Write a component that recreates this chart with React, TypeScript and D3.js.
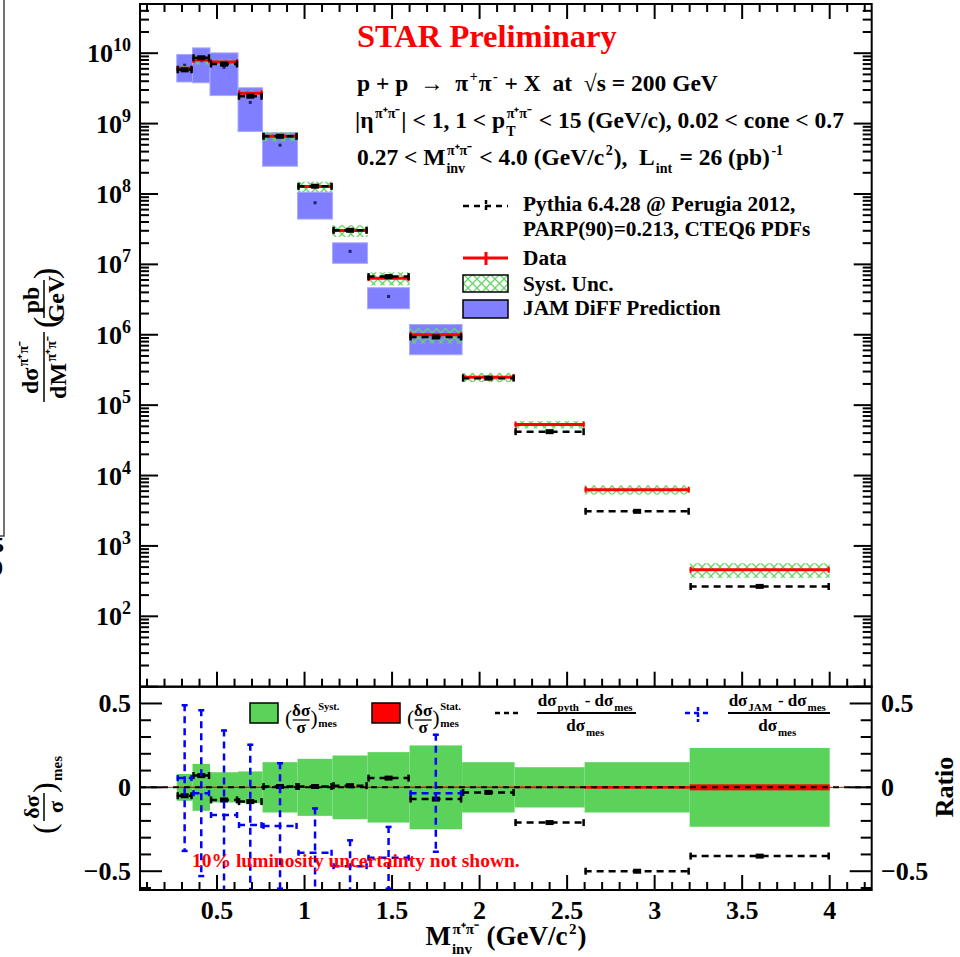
import React from 'react';
import * as d3 from 'd3';

// invariant mass bins (GeV/c^2)
const binEdges = [0.27, 0.36, 0.46, 0.62, 0.76, 0.96, 1.16, 1.36, 1.6, 1.9, 2.2, 2.6, 3.2, 4.0];

// upper panel, dsigma/dM (pb/GeV)
const dataXsec = [6.1e9, 8.0e9, 7.5e9, 2.7e9, 6.6e8, 1.28e8, 3.03e7, 6.37e6, 1.0e6, 2.5e5, 5.3e4, 6.3e3, 4.6e2];
const pythiaXsec = [5.8e9, 8.6e9, 7.0e9, 2.45e9, 6.6e8, 1.29e8, 3.05e7, 6.7e6, 9.3e5, 2.42e5, 4.2e4, 3.1e3, 2.66e2];
const jamXsec = [6.75e9, 7.85e9, 6.3e9, 2.0e9, 4.94e8, 7.5e7, 1.53e7, 3.5e6, 9.6e5];
const jamErr = [2.85e9, 4.05e9, 3.8e9, 1.23e9, 2.46e8, 3.1e7, 4.95e6, 1.16e6, 4.4e5];

// lower panel, relative quantities
const systRel = [0.08, 0.14, 0.09, 0.095, 0.15, 0.17, 0.19, 0.21, 0.25, 0.15, 0.12, 0.15, 0.235];
const statRel = [0.003, 0.003, 0.003, 0.003, 0.003, 0.003, 0.003, 0.003, 0.004, 0.004, 0.005, 0.008, 0.018];
const pythiaRatio = [-0.05, 0.07, -0.075, -0.085, 0.005, 0.005, 0.01, 0.055, -0.07, -0.03, -0.21, -0.5, -0.41];
const jamRatio = [0.055, -0.035, -0.165, -0.225, -0.23, -0.39, -0.47, -0.42, -0.035];
const jamRatioErr = [0.44, 0.5, 0.51, 0.485, 0.38, 0.27, 0.16, 0.19, 0.355];

// axis ticks
const xLabels = [0.5, 1, 1.5, 2, 2.5, 3, 3.5, 4];
const decades = [2, 3, 4, 5, 6, 7, 8, 9, 10];
const ratioLabels = [0.5, 0, -0.5];

const W = 960;
const H = 957;
const L = 140;
const R = 871.7;
const T = 4;
const MID = 686.7;
const B = 890;
const FONT = "'Liberation Serif', 'Times New Roman', Times, serif";
const GREEN = '#5bd35b';
const BLUE = '#0000ff';
const JAMFILL = '#7f7fff';
const PIPI = '\u03c0\u207a\u03c0\u207b';

const x = d3.scaleLinear().domain([0.06, 4.24]).range([L, R]);
const yTop = d3.scaleLog().domain([10, 5e10]).range([MID, T]);
const yBot = d3.scaleLinear().domain([-0.612, 0.6]).range([B, MID]);

const fmtR = (v: number) => (v < 0 ? '\u2212' + Math.abs(v) : String(v));

// text width through a canvas, so sub/superscripts can be stacked
let ctx: CanvasRenderingContext2D | null = null;
function textW(t: string, size: number) {
  if (!ctx) ctx = document.createElement('canvas').getContext('2d');
  if (!ctx) return t.length * size * 0.5;
  ctx.font = `bold ${size}px ${FONT}`;
  return ctx.measureText(t).width;
}

type Part = { t?: string; sup?: string; sub?: string };

// a line of latex-like text: plain pieces and stacked sup/sub pieces
function Rich({ x: x0, y, size, parts, anchor = 'start', fill = '#000', ss }: any) {
  const small = ss || size * 0.6;
  const rise = size * 0.42;
  const drop = size * 0.32;
  const items: { x: number; y: number; t: string; s: number }[] = [];
  let cx = 0;
  (parts as Part[]).forEach((p) => {
    if (p.t) {
      items.push({ x: cx, y: 0, t: p.t, s: size });
      cx += textW(p.t, size);
    } else {
      const w1 = p.sup ? textW(p.sup, small) : 0;
      const w2 = p.sub ? textW(p.sub, small) : 0;
      if (p.sup) items.push({ x: cx + 1.5, y: -rise, t: p.sup, s: small });
      if (p.sub) items.push({ x: cx + 1, y: drop, t: p.sub, s: small });
      cx += Math.max(w1, w2) + 2.5;
    }
  });
  const off = anchor === 'middle' ? -cx / 2 : anchor === 'end' ? -cx : 0;
  return (
    <g fill={fill}>
      {items.map((it, i) => (
        <text key={i} x={x0 + off + it.x} y={y + it.y} fontSize={it.s} style={{ whiteSpace: 'pre' }}>
          {it.t}
        </text>
      ))}
    </g>
  );
}

// dashed horizontal bar with end caps and a small centre marker
function DashBar({ x0, x1, y, color }: any) {
  const xc = (x0 + x1) / 2;
  return (
    <g stroke={color} strokeWidth={2.5}>
      <line x1={x0} x2={x1} y1={y} y2={y} strokeDasharray="7,5" />
      <line x1={x0 + 1} x2={x0 + 1} y1={y - 3.5} y2={y + 3.5} />
      <line x1={x1 - 1} x2={x1 - 1} y1={y - 3.5} y2={y + 3.5} />
      <rect x={xc - 4} y={y - 2.5} width={8} height={5} fill={color} stroke="none" />
    </g>
  );
}

// (δσ/σ) with stacked superscript / subscript
function DeltaSigma({ x: x0, y, size, sup, sub }: any) {
  return (
    <g>
      <text x={x0} y={y + size * 0.3} fontSize={size * 1.25} fontWeight="normal">(</text>
      <text x={x0 + size * 0.95} y={y - 4} textAnchor="middle" fontSize={size}>{'\u03b4\u03c3'}</text>
      <line x1={x0 + size * 0.45} x2={x0 + size * 1.45} y1={y} y2={y} stroke="#000" strokeWidth={1.3} />
      <text x={x0 + size * 0.95} y={y + size * 0.78} textAnchor="middle" fontSize={size}>{'\u03c3'}</text>
      <text x={x0 + size * 1.5} y={y + size * 0.3} fontSize={size * 1.25} fontWeight="normal">)</text>
      {sup && <text x={x0 + size * 1.95} y={y - 10} fontSize={size * 0.62}>{sup}</text>}
      <text x={x0 + size * 1.95} y={y + size * 0.42} fontSize={size * 0.66}>{sub}</text>
    </g>
  );
}

export default function App() {
  const bins = d3.pairs(binEdges);
  const xMinor = d3.range(1, 43).map((i) => i / 10);
  const yMinor: { v: number; major: boolean }[] = [];
  for (let e = 1; e <= 10; e++) {
    for (let k = 1; k <= 9; k++) {
      const v = k * Math.pow(10, e);
      if (v >= 10 && v <= 5e10) yMinor.push({ v, major: k === 1 });
    }
  }
  const rMinor = d3.range(-6, 6).map((i) => i / 10);

  return (
    <svg
      width={W}
      height={H}
      style={{ position: 'absolute', left: 0, top: 0, background: '#fff' }}
      fontFamily={FONT}
      fontWeight="bold"
    >
      <defs>
        <clipPath id="clipTop">
          <rect x={L} y={T} width={R - L} height={MID - T} />
        </clipPath>
        <clipPath id="clipBot">
          <rect x={L} y={MID} width={R - L} height={B - MID} />
        </clipPath>
        <clipPath id="clipEdge">
          <rect x={0} y={0} width={6} height={H} />
        </clipPath>
        <pattern id="hatch" patternUnits="userSpaceOnUse" width={9} height={9}>
          <path d="M0,0L9,9M9,0L0,9" stroke="#66d466" strokeWidth={1.3} />
        </pattern>
      </defs>

      {/* stray frame of a neighbouring panel */}
      <path d="M0,536 H4 V0" fill="none" stroke="#444" strokeWidth={1.5} />
      <g clipPath="url(#clipEdge)" fontSize={22}>
        <text x={-7} y={552}>5</text>
        <text x={-8} y={575}>0</text>
      </g>

      {/* ---------- upper panel ---------- */}
      <g clipPath="url(#clipTop)">
        {jamXsec.map((j, i) => {
          const [e0, e1] = bins[i];
          const top = yTop(j + jamErr[i]);
          const bot = yTop(Math.max(j - jamErr[i], 11));
          return (
            <g key={'jam' + i}>
              <rect x={x(e0)} y={top} width={x(e1) - x(e0)} height={bot - top} fill={JAMFILL} stroke="#a9a9ff" strokeWidth={1} />
              <rect x={x((e0 + e1) / 2) - 1.5} y={yTop(j) - 1.5} width={3} height={3} fill="#222266" />
            </g>
          );
        })}
        {dataXsec.map((d, i) => {
          const [e0, e1] = bins[i];
          const top = yTop(d * (1 + systRel[i]));
          const bot = yTop(d * (1 - systRel[i]));
          return <rect key={'sys' + i} x={x(e0)} y={top} width={x(e1) - x(e0)} height={bot - top} fill="url(#hatch)" />;
        })}
        {dataXsec.map((d, i) => {
          const [e0, e1] = bins[i];
          const y = yTop(d);
          const xc = x((e0 + e1) / 2);
          return (
            <g key={'dat' + i} stroke="#ff0000" strokeWidth={3}>
              <line x1={x(e0)} x2={x(e1)} y1={y} y2={y} />
              <line x1={x(e0) + 1} x2={x(e0) + 1} y1={y - 3} y2={y + 3} strokeWidth={2} />
              <line x1={x(e1) - 1} x2={x(e1) - 1} y1={y - 3} y2={y + 3} strokeWidth={2} />
              <line x1={xc} x2={xc} y1={yTop(d * (1 + statRel[i]))} y2={yTop(d * (1 - statRel[i]))} strokeWidth={2} />
            </g>
          );
        })}
        {pythiaXsec.map((p, i) => {
          const [e0, e1] = bins[i];
          return <DashBar key={'py' + i} x0={x(e0)} x1={x(e1)} y={yTop(p)} color="#000" />;
        })}
      </g>

      {/* upper panel ticks */}
      <g stroke="#000" strokeWidth={2}>
        {yMinor.map(({ v, major }) => {
          const len = major ? 18 : 9;
          const y = yTop(v);
          return (
            <g key={'ym' + v}>
              <line x1={L} x2={L + len} y1={y} y2={y} />
              <line x1={R} x2={R - len} y1={y} y2={y} />
            </g>
          );
        })}
        {xMinor.map((v) => {
          const major = Math.abs(v * 2 - Math.round(v * 2)) < 1e-9;
          const xx = x(v);
          return (
            <g key={'xt' + v}>
              <line x1={xx} x2={xx} y1={T} y2={T + (major ? 15 : 8)} />
              <line x1={xx} x2={xx} y1={MID} y2={MID - (major ? 15 : 8)} />
              <line x1={xx} x2={xx} y1={B} y2={B - (major ? 15 : 8)} />
            </g>
          );
        })}
      </g>
      <rect x={L} y={T} width={R - L} height={MID - T} fill="none" stroke="#000" strokeWidth={2} />

      {decades.map((e) => (
        <text key={'yl' + e} x={131} y={yTop(Math.pow(10, e)) + 9} textAnchor="end" fontSize={26}>
          10<tspan dy={-11} fontSize={18}>{e}</tspan>
        </text>
      ))}

      {/* header */}
      <text x={357} y={47} fill="#ff0000" fontSize={32.5}>STAR Preliminary</text>
      <Rich x={357} y={91} size={23.5} ss={14}
        parts={[{ t: 'p + p  \u2192  \u03c0' }, { sup: '+' }, { t: '\u03c0' }, { sup: '-' }, { t: ' + X  at  \u221as = 200 GeV' }]} />
      <Rich x={355} y={128} size={23.5} ss={14}
        parts={[{ t: '|\u03b7' }, { sup: PIPI }, { t: '| < 1, 1 < p' }, { sup: PIPI, sub: 'T' }, { t: ' < 15 (GeV/c), 0.02 < cone < 0.7' }]} />
      <Rich x={357} y={165} size={23.5} ss={14}
        parts={[{ t: '0.27 < M' }, { sup: PIPI, sub: 'inv' }, { t: ' < 4.0 (GeV/c' }, { sup: '2' }, { t: '),  L' }, { sub: 'int' }, { t: ' = 26 (pb)' }, { sup: '-1' }]} />

      {/* upper legend */}
      <g>
        <line x1={463} x2={508} y1={206} y2={206} stroke="#000" strokeWidth={2.5} strokeDasharray="6,5" />
        <line x1={486} x2={486} y1={200} y2={212} stroke="#000" strokeWidth={2.5} strokeDasharray="4,2" />
        <line x1={463} x2={508} y1={258} y2={258} stroke="#ff0000" strokeWidth={3} />
        <line x1={486} x2={486} y1={252} y2={265} stroke="#ff0000" strokeWidth={3} />
        <rect x={463} y={275} width={45} height={17} fill="url(#hatch)" stroke="#000" strokeWidth={1.5} />
        <rect x={463} y={300} width={45} height={18} fill={JAMFILL} stroke="#000" strokeWidth={1.5} />
        <g fontSize={21.3}>
          <text x={523} y={211}>Pythia 6.4.28 @ Perugia 2012,</text>
          <text x={523} y={236}>PARP(90)=0.213, CTEQ6 PDFs</text>
          <text x={523} y={265}>Data</text>
          <text x={523} y={291}>Syst. Unc.</text>
          <text x={523} y={315}>JAM DiFF Prediction</text>
        </g>
      </g>

      {/* upper y title */}
      <g transform="translate(44,332) rotate(-90)">
        <Rich x={-35} y={-6} size={24} ss={14} anchor="middle" parts={[{ t: 'd\u03c3' }, { sup: PIPI }]} />
        <line x1={-70} x2={0} y1={0} y2={0} stroke="#000" strokeWidth={1.5} />
        <Rich x={-35} y={22} size={24} ss={14} anchor="middle" parts={[{ t: 'dM' }, { sup: PIPI }]} />
        <text x={4} y={13} fontSize={34} fontWeight="normal">(</text>
        <text x={32} y={-5} textAnchor="middle" fontSize={24}>pb</text>
        <line x1={14} x2={52} y1={0} y2={0} stroke="#000" strokeWidth={1.5} />
        <text x={33} y={20} textAnchor="middle" fontSize={24}>GeV</text>
        <text x={53} y={13} fontSize={34} fontWeight="normal">)</text>
      </g>

      {/* ---------- lower panel ---------- */}
      <g clipPath="url(#clipBot)">
        {systRel.map((s, i) => {
          const [e0, e1] = bins[i];
          return <rect key={'gs' + i} x={x(e0)} y={yBot(s)} width={x(e1) - x(e0)} height={yBot(-s) - yBot(s)} fill={GREEN} />;
        })}
        {statRel.map((s, i) => {
          const [e0, e1] = bins[i];
          return <rect key={'rs' + i} x={x(e0)} y={yBot(s)} width={x(e1) - x(e0)} height={yBot(-s) - yBot(s)} fill="#ff0000" />;
        })}
        <line x1={L} x2={R} y1={yBot(0)} y2={yBot(0)} stroke="#ff0000" strokeWidth={1} />
        <line x1={L} x2={R} y1={yBot(0)} y2={yBot(0)} stroke="#000" strokeWidth={2} strokeDasharray="6,5" />
        {pythiaRatio.map((r, i) => {
          const [e0, e1] = bins[i];
          return <DashBar key={'pr' + i} x0={x(e0)} x1={x(e1)} y={yBot(r)} color="#000" />;
        })}
        {jamRatio.map((r, i) => {
          const [e0, e1] = bins[i];
          const xc = x((e0 + e1) / 2);
          const yt = yBot(r + jamRatioErr[i]);
          const yb = yBot(r - jamRatioErr[i]);
          return (
            <g key={'jr' + i} stroke={BLUE} strokeWidth={2.5}>
              <line x1={x(e0)} x2={x(e1)} y1={yBot(r)} y2={yBot(r)} strokeDasharray="7,5" />
              <line x1={x(e0) + 1} x2={x(e0) + 1} y1={yBot(r) - 3} y2={yBot(r) + 3} />
              <line x1={x(e1) - 1} x2={x(e1) - 1} y1={yBot(r) - 3} y2={yBot(r) + 3} />
              <line x1={xc} x2={xc} y1={yt} y2={yb} strokeDasharray="7,5" />
              <line x1={xc - 3} x2={xc + 3} y1={yt + 1} y2={yt + 1} />
              <line x1={xc - 3} x2={xc + 3} y1={yb - 1} y2={yb - 1} />
            </g>
          );
        })}
      </g>

      {/* lower panel ticks */}
      <g stroke="#000" strokeWidth={2}>
        {rMinor.map((v) => {
          const major = Math.abs(v * 2 - Math.round(v * 2)) < 1e-9;
          const y = yBot(v);
          const len = major ? 22 : 11;
          return (
            <g key={'rt' + v}>
              <line x1={L} x2={L + len} y1={y} y2={y} />
              <line x1={R} x2={R - len} y1={y} y2={y} />
            </g>
          );
        })}
      </g>
      <rect x={L} y={MID} width={R - L} height={B - MID} fill="none" stroke="#000" strokeWidth={2} />

      {ratioLabels.map((v) => (
        <g key={'rl' + v} fontSize={26}>
          <text x={131} y={yBot(v) + 9} textAnchor="end">{fmtR(v)}</text>
          <text x={881} y={yBot(v) + 9}>{fmtR(v)}</text>
        </g>
      ))}
      {xLabels.map((v) => (
        <text key={'xl' + v} x={x(v)} y={919} textAnchor="middle" fontSize={26}>{String(v)}</text>
      ))}

      {/* x title */}
      <Rich x={506} y={945} size={27} ss={15} anchor="middle"
        parts={[{ t: 'M' }, { sup: PIPI, sub: 'inv' }, { t: ' (GeV/c' }, { sup: '2' }, { t: ')' }]} />

      {/* lower y title */}
      <g transform="translate(42,787) rotate(-90)">
        <text x={-47} y={13} fontSize={32} fontWeight="normal">(</text>
        <text x={-20} y={-3} textAnchor="middle" fontSize={22}>{'\u03b4\u03c3'}</text>
        <line x1={-34} x2={-6} y1={2} y2={2} stroke="#000" strokeWidth={1.5} />
        <text x={-20} y={21} textAnchor="middle" fontSize={22}>{'\u03c3'}</text>
        <text x={-6} y={13} fontSize={32} fontWeight="normal">)</text>
        <text x={6} y={20} fontSize={15}>mes</text>
      </g>
      <text transform="translate(953,787) rotate(-90)" textAnchor="middle" fontSize={26}>Ratio</text>

      {/* lower legend */}
      <g>
        <rect x={250} y={703} width={28} height={20} fill={GREEN} stroke="#000" strokeWidth={1.5} />
        <DeltaSigma x={285} y={720} size={17} sup="Syst." sub="mes" />
        <rect x={372} y={703} width={28} height={20} fill="#ff0000" stroke="#000" strokeWidth={1.5} />
        <DeltaSigma x={407} y={720} size={17} sup="Stat." sub="mes" />

        <line x1={495} x2={522} y1={713} y2={713} stroke="#000" strokeWidth={2.5} strokeDasharray="5,4" />
        <Rich x={586} y={706} size={17} ss={11} anchor="middle"
          parts={[{ t: 'd\u03c3' }, { sub: 'pyth' }, { t: ' - d\u03c3' }, { sub: 'mes' }]} />
        <line x1={537} x2={636} y1={713} y2={713} stroke="#000" strokeWidth={2} />
        <Rich x={586} y={731} size={17} ss={11} anchor="middle" parts={[{ t: 'd\u03c3' }, { sub: 'mes' }]} />

        <line x1={685} x2={712} y1={713} y2={713} stroke={BLUE} strokeWidth={2.5} strokeDasharray="5,4" />
        <line x1={698} x2={698} y1={707} y2={722} stroke={BLUE} strokeWidth={2.5} strokeDasharray="4,2" />
        <Rich x={778} y={706} size={17} ss={11} anchor="middle"
          parts={[{ t: 'd\u03c3' }, { sub: 'JAM' }, { t: ' - d\u03c3' }, { sub: 'mes' }]} />
        <line x1={728} x2={830} y1={713} y2={713} stroke="#000" strokeWidth={2} />
        <Rich x={778} y={731} size={17} ss={11} anchor="middle" parts={[{ t: 'd\u03c3' }, { sub: 'mes' }]} />
      </g>

      <text x={192} y={867} fill="#ff0000" fontSize={19.5}>10% luminosity uncertainty not shown.</text>
    </svg>
  );
}
